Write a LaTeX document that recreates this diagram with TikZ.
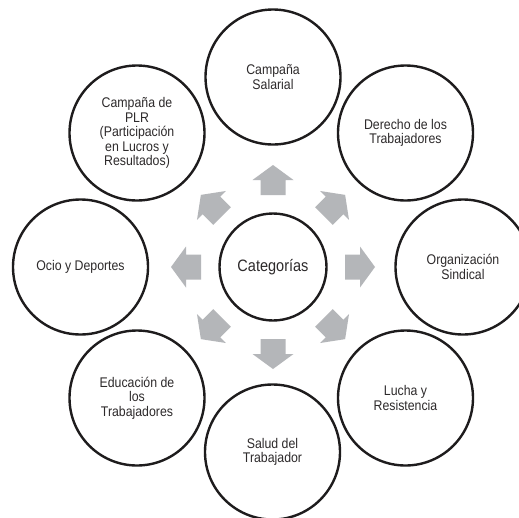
\documentclass[tikz,border=0pt]{standalone}
\usepackage{fontspec}
\setmainfont{Liberation Sans}[FakeStretch=0.88]
\definecolor{ringline}{RGB}{30,28,29}
\definecolor{labeltext}{RGB}{45,42,43}
\definecolor{arrowfill}{RGB}{180,182,185}
\begin{document}
\begin{tikzpicture}[x=1pt,y=-1pt,
  topic/.style={circle,draw=ringline,line width=2.4pt,minimum size=135pt,inner sep=0pt,
    align=center,text=labeltext,font=\fontsize{14}{14.5}\selectfont},
  hub/.style={circle,draw=ringline,line width=2.4pt,minimum size=107pt,inner sep=0pt,
    align=center,text=labeltext,font=\fontsize{16.5}{18}\selectfont},
  spoke/.style={fill=arrowfill,draw=none}]
\clip (0,0) rectangle (519,517);
\fill[white] (0,0) rectangle (519,517);

% central hub
\node[hub] (hub) at (273,267) {Categorías};

% eight surrounding topics
\node[topic] (salarial) at (273,77)    {Campaña\\Salarial};
\node[topic] (derecho)  at (405.5,133) {Derecho de los\\Trabajadores};
\node[topic] (sindical) at (463,267)   {Organización\\Sindical};
\node[topic] (lucha)    at (405.5,398) {Lucha y\\Resistencia};
\node[topic] (salud)    at (272.5,452) {Salud del\\Trabajador};
\node[topic] (educa)    at (137,398)   {Educación de\\los\\Trabajadores};
\node[topic] (ocio)     at (80.5,267)  {Ocio y Deportes};
\node[topic] (plr)      at (137,133)   {Campaña de\\PLR\\(Participación\\en Lucros y\\Resultados)};

% block arrows radiating from the hub
\foreach \ang in {0,45,...,315}{
  \begin{scope}[shift={(hub.center)},rotate=\ang]
    \fill[spoke] (72,-12.5) -- (87,-12.5) -- (87,-20.5) -- (102,0)
      -- (87,20.5) -- (87,12.5) -- (72,12.5) -- cycle;
  \end{scope}
}
\end{tikzpicture}
\end{document}
